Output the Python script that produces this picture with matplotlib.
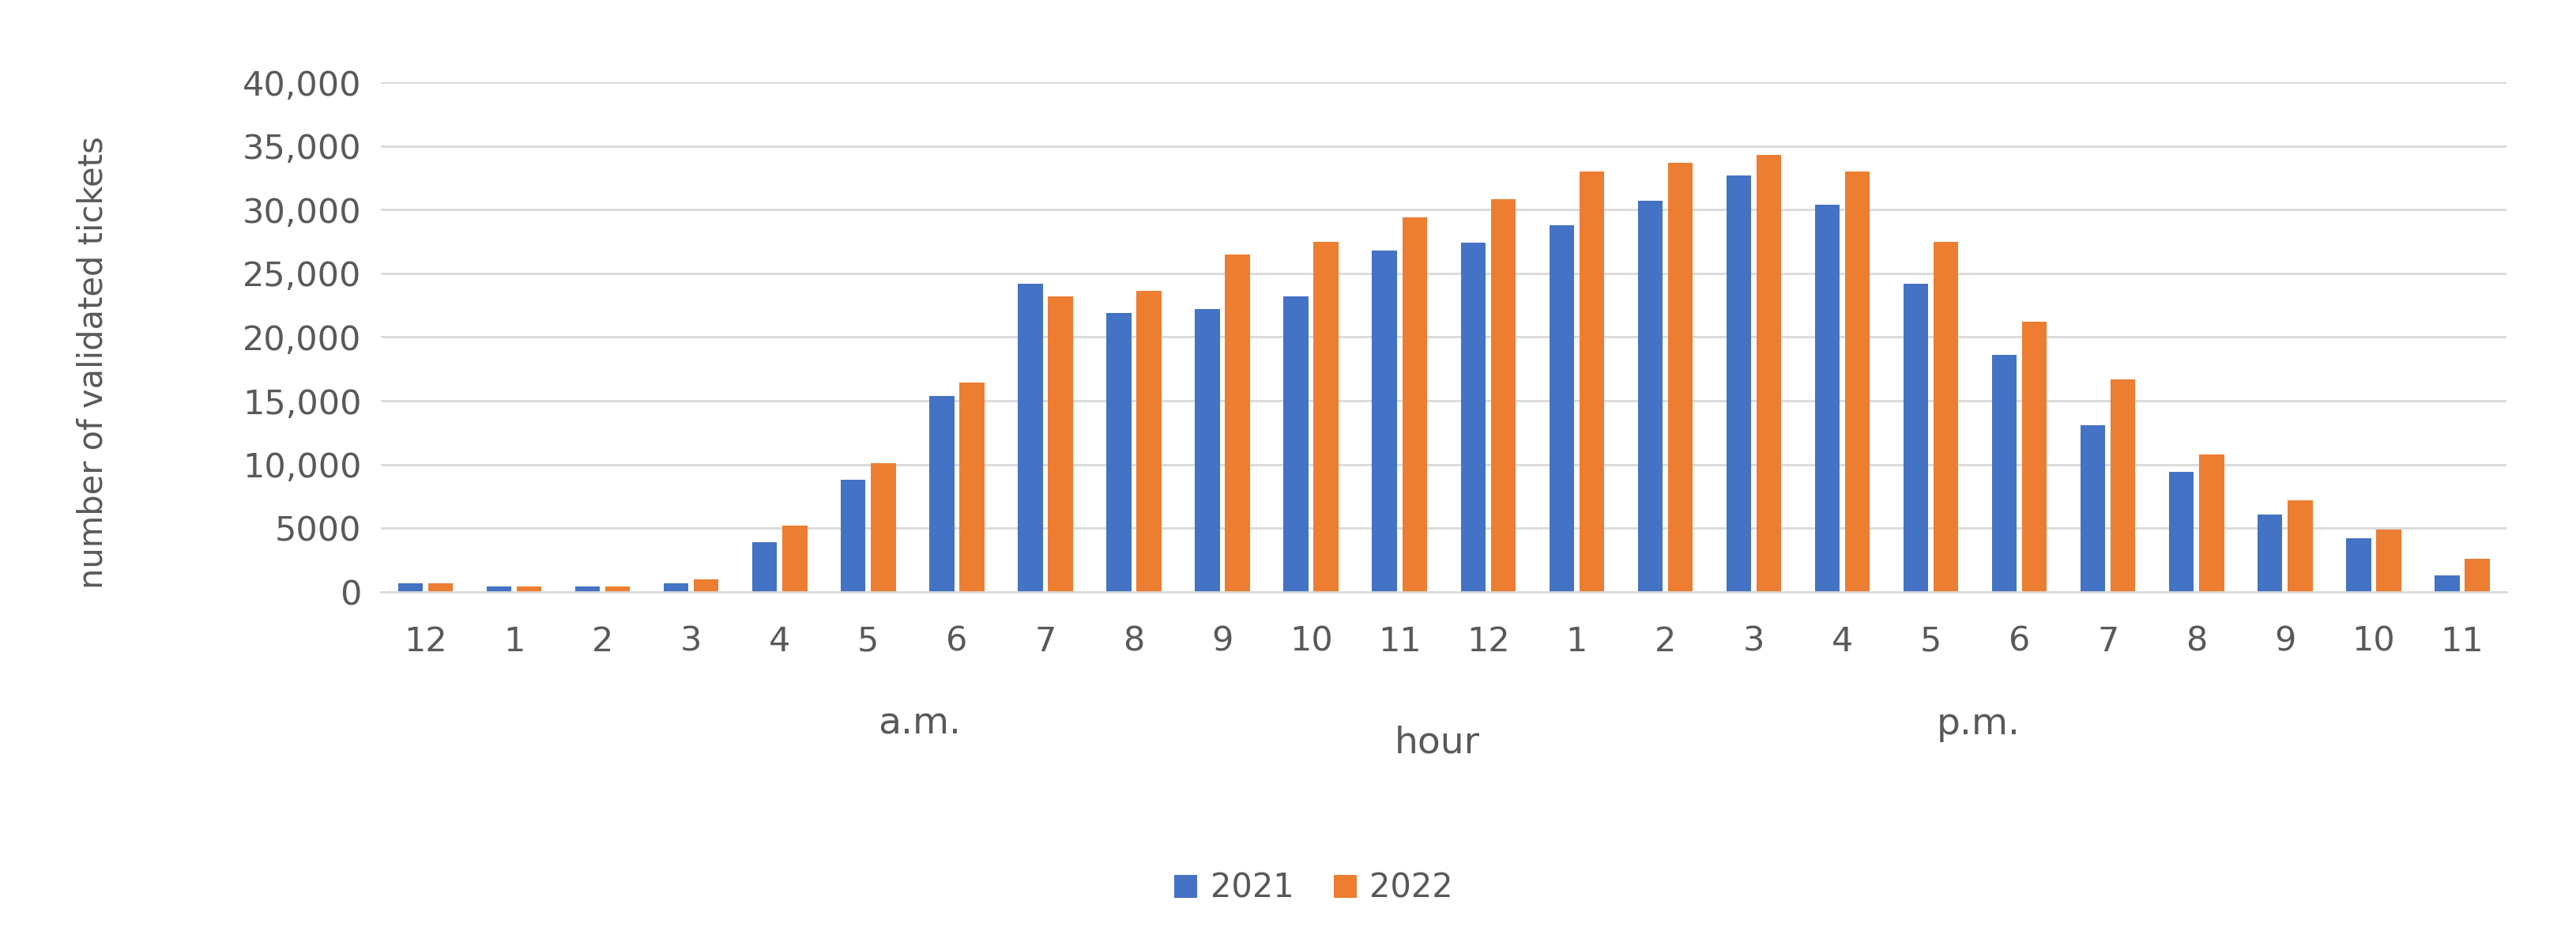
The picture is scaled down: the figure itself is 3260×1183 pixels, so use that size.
import matplotlib.pyplot as plt
import numpy as np

hours = ["12", "1", "2", "3", "4", "5", "6", "7", "8", "9", "10", "11",
         "12", "1", "2", "3", "4", "5", "6", "7", "8", "9", "10", "11"]
tickets_2021 = [700, 400, 400, 700, 3900, 8800, 15400, 24200, 21900, 22200, 23200, 26800,
                27400, 28800, 30700, 32700, 30400, 24200, 18600, 13100, 9400, 6100, 4200, 1300]
tickets_2022 = [700, 400, 400, 1000, 5200, 10100, 16400, 23200, 23600, 26500, 27500, 29400,
                30800, 33000, 33700, 34300, 33000, 27500, 21200, 16700, 10800, 7200, 4900, 2600]
y_ticks = [0, 5000, 10000, 15000, 20000, 25000, 30000, 35000, 40000]
y_labels = ["0", "5000", "10,000", "15,000", "20,000", "25,000", "30,000", "35,000", "40,000"]

fig = plt.figure(figsize=(32.6, 11.83), dpi=100)
ax = fig.add_axes([0.148, 0.367, 0.825, 0.545])

x = np.arange(len(hours))
w = 0.28
ax.bar(x - w / 2 - 0.03, tickets_2021, w, color="#4472C4", label="2021")
ax.bar(x + w / 2 + 0.03, tickets_2022, w, color="#ED7D31", label="2022")

ax.set_xlim(-0.5, len(hours) - 0.5)
ax.set_ylim(0, 40000)
ax.set_yticks(y_ticks)
ax.set_yticklabels(y_labels)
ax.set_xticks(x)
ax.set_xticklabels(hours)
ax.tick_params(labelsize=31, colors="#595959", length=0)
ax.tick_params(axis="x", pad=30)
ax.tick_params(axis="y", pad=18)
ax.grid(axis="y", color="#D9D9D9", linewidth=2)
ax.set_axisbelow(True)
for s in ["top", "right", "left"]:
    ax.spines[s].set_visible(False)
ax.spines["bottom"].set_color("#D9D9D9")
ax.spines["bottom"].set_linewidth(2)

ax.set_ylabel("number of validated tickets", fontsize=30, color="#595959")
ax.yaxis.set_label_coords(-0.128, 0.45)
fig.text(0.357, 0.215, "a.m.", fontsize=34, color="#595959", ha="center")
fig.text(0.558, 0.195, "hour", fontsize=34, color="#595959", ha="center")
fig.text(0.768, 0.215, "p.m.", fontsize=34, color="#595959", ha="center")

fig.legend(loc="center", bbox_to_anchor=(0.51, 0.05), ncol=2, frameon=False,
           fontsize=30, labelcolor="#595959", handlelength=0.7, handleheight=0.7,
           columnspacing=1.2, handletextpad=0.4)

fig.savefig("out.png", dpi=100, facecolor="white")
